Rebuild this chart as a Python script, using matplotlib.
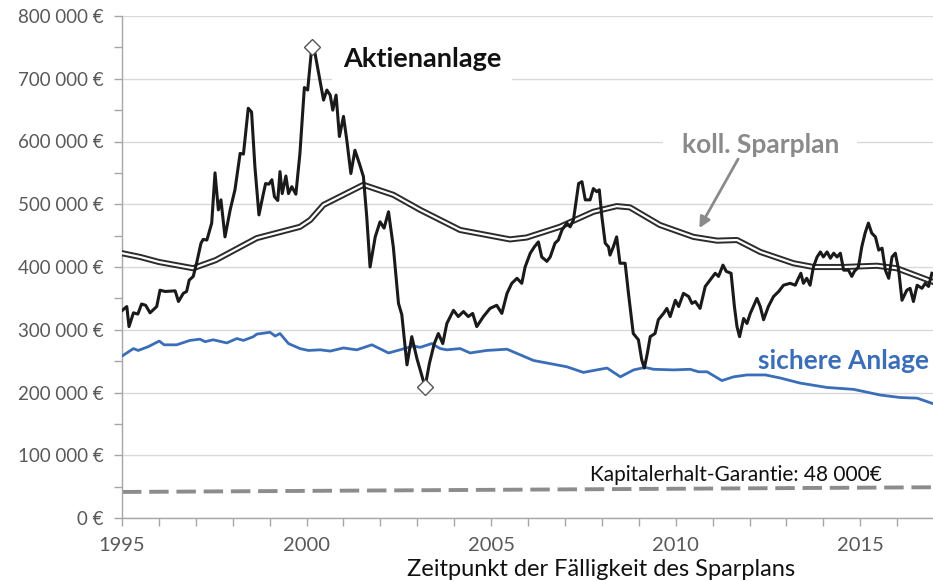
import matplotlib
matplotlib.use("Agg")
import matplotlib.pyplot as plt
from matplotlib.ticker import FuncFormatter, MultipleLocator

plt.rcParams['font.family'] = ['Lato', 'DejaVu Sans']

# ---------------- DATA ----------------
# Aktienanlage (year, value in EUR)
aktien_years = [
    1995.01, 1995.13, 1995.19, 1995.31, 1995.43, 1995.53, 1995.64, 1995.76, 1995.94, 1996.03,
    1996.17, 1996.44, 1996.53, 1996.66, 1996.75, 1996.82, 1996.93, 1997.02, 1997.14, 1997.20,
    1997.30, 1997.43, 1997.52, 1997.61, 1997.68, 1997.79, 1997.93, 1998.06, 1998.20, 1998.29,
    1998.42, 1998.51, 1998.60, 1998.71, 1998.83, 1998.89, 1998.98, 1999.06, 1999.13, 1999.22,
    1999.28, 1999.34, 1999.44, 1999.51, 1999.60, 1999.71, 1999.82, 1999.94, 2000.03, 2000.14,
    2000.23, 2000.46, 2000.55, 2000.64, 2000.71, 2000.80, 2000.89, 2001.00, 2001.09, 2001.20,
    2001.31, 2001.43, 2001.54, 2001.63, 2001.72, 2001.86, 2001.99, 2002.10, 2002.22, 2002.35,
    2002.49, 2002.58, 2002.72, 2002.85, 2002.99, 2003.21, 2003.33, 2003.46, 2003.57, 2003.69,
    2003.80, 2003.98, 2004.11, 2004.25, 2004.38, 2004.50, 2004.61, 2004.79, 2004.97, 2005.15,
    2005.29, 2005.43, 2005.56, 2005.70, 2005.83, 2005.92, 2006.06, 2006.17, 2006.28, 2006.37,
    2006.51, 2006.60, 2006.73, 2006.82, 2006.92, 2007.05, 2007.14, 2007.23, 2007.37, 2007.46,
    2007.55, 2007.68, 2007.77, 2007.86, 2007.93, 2008.00, 2008.09, 2008.18, 2008.22, 2008.31,
    2008.40, 2008.49, 2008.63, 2008.72, 2008.85, 2008.99, 2009.08, 2009.15, 2009.23, 2009.31,
    2009.44, 2009.53, 2009.67, 2009.76, 2009.85, 2009.99, 2010.08, 2010.21, 2010.35, 2010.44,
    2010.53, 2010.66, 2010.80, 2010.93, 2011.07, 2011.16, 2011.28, 2011.37, 2011.50, 2011.59,
    2011.66, 2011.73, 2011.84, 2011.93, 2012.02, 2012.20, 2012.29, 2012.38, 2012.51, 2012.65,
    2012.79, 2012.92, 2013.10, 2013.24, 2013.30, 2013.39, 2013.46, 2013.55, 2013.64, 2013.73,
    2013.83, 2013.92, 2014.00, 2014.10, 2014.19, 2014.28, 2014.37, 2014.46, 2014.55, 2014.68,
    2014.77, 2014.84, 2014.95, 2015.04, 2015.13, 2015.22, 2015.31, 2015.41, 2015.50, 2015.59,
    2015.68, 2015.77, 2015.86, 2015.95, 2016.04, 2016.13, 2016.26, 2016.35, 2016.44, 2016.54,
    2016.67, 2016.76, 2016.85, 2016.94,
]
aktien_values = [
    331, 337, 305, 327, 325, 341, 339, 327, 337, 363,
    361, 362, 345, 358, 361, 379, 385, 406, 438, 444,
    443, 470, 550, 491, 507, 448, 491, 523, 581, 580,
    653, 647, 560, 483, 517, 533, 532, 539, 512, 506,
    552, 517, 545, 517, 528, 516, 581, 686, 682, 750,
    740, 666, 682, 674, 650, 674, 608, 640, 602, 549,
    586, 565, 544, 480, 400, 448, 472, 462, 488, 432,
    342, 324, 244, 289, 254, 209, 247, 278, 294, 278,
    310, 331, 321, 329, 321, 326, 305, 321, 334, 339,
    326, 358, 374, 382, 374, 400, 422, 432, 440, 416,
    409, 416, 438, 443, 459, 470, 464, 475, 533, 536,
    507, 507, 525, 520, 523, 480, 438, 432, 419, 432,
    448, 406, 406, 358, 294, 284, 252, 239, 262, 289,
    294, 316, 326, 334, 321, 347, 337, 358, 353, 342,
    345, 334, 369, 379, 390, 385, 403, 393, 390, 337,
    305, 289, 318, 310, 326, 350, 337, 316, 337, 353,
    361, 371, 374, 371, 379, 390, 374, 382, 371, 400,
    416, 424, 416, 424, 414, 422, 416, 422, 395, 395,
    385, 393, 400, 432, 454, 470, 454, 448, 427, 430,
    395, 382, 416, 422, 395, 347, 363, 366, 345, 371,
    366, 374, 369, 390,
]
aktien_values = [v * 1000 for v in aktien_values]

# koll. Sparplan
spar_years = [
    1995.00, 1995.49, 1996.00, 1996.93, 1997.02, 1997.54, 1998.65, 1999.82, 2000.10, 2000.46,
    2001.54, 2002.35, 2003.08, 2004.16, 2005.51, 2005.96, 2006.86, 2007.77, 2008.40, 2008.76,
    2009.57, 2010.48, 2011.12, 2011.66, 2012.29, 2013.19, 2013.73, 2014.55, 2015.45, 2015.99,
    2016.94,
]
spar_values = [
    422, 416, 408, 398, 400, 411, 446, 464, 475, 499,
    531, 515, 491, 459, 444, 447, 464, 488, 497, 495,
    467, 448, 442, 443, 424, 406, 400, 400, 402, 398,
    377,
]
spar_values = [v * 1000 for v in spar_values]

# sichere Anlage
sicher_years = [
    1995.00, 1995.31, 1995.44, 1995.71, 1996.01, 1996.14, 1996.48, 1996.84, 1997.11, 1997.25,
    1997.47, 1997.84, 1998.11, 1998.29, 1998.56, 1998.65, 1999.01, 1999.15, 1999.28, 1999.51,
    1999.82, 2000.05, 2000.37, 2000.64, 2001.00, 2001.36, 2001.77, 2002.22, 2002.53, 2002.89,
    2003.08, 2003.39, 2003.62, 2003.80, 2004.16, 2004.43, 2004.88, 2005.43, 2005.79, 2006.15,
    2006.51, 2007.05, 2007.50, 2007.86, 2008.14, 2008.50, 2008.86, 2009.17, 2009.40, 2009.94,
    2010.39, 2010.62, 2010.85, 2011.25, 2011.57, 2011.93, 2012.43, 2012.84, 2013.37, 2014.10,
    2014.82, 2015.54, 2016.08, 2016.54, 2016.98,
]
sicher_values = [
    258, 270, 267, 273, 282, 276, 276, 283, 285, 281,
    284, 279, 286, 283, 289, 293, 296, 290, 294, 278,
    270, 267, 268, 266, 271, 268, 276, 263, 268, 274,
    272, 278, 270, 268, 270, 263, 267, 269, 260, 251,
    247, 241, 232, 236, 239, 225, 236, 240, 237, 236,
    237, 233, 233, 219, 225, 228, 228, 223, 215, 208,
    205, 196, 192, 191, 182,
]
sicher_values = [v * 1000 for v in sicher_values]

# Kapitalerhalt-Garantie
garantie_years = [1995.0, 2017.0]
garantie_values = [41500, 49000]

# extremes marked with diamonds
extreme_years = [2000.14, 2003.21]
extreme_values = [750000, 209000]

BLUE = "#3a6eb8"
GREY_TXT = "#595959"

# ---------------- PLOT ----------------
fig = plt.figure(figsize=(9.33, 5.81), dpi=100)
ax = fig.add_axes([122 / 933, 63 / 581, 1 - 122 / 933, 502 / 581])

ax.plot(garantie_years, garantie_values, color="#8c8c8c", lw=2.8, dashes=(5, 2), zorder=2)
ax.plot(sicher_years, sicher_values, color=BLUE, lw=2.0, zorder=3)
ax.plot(spar_years, spar_values, color="#2b2b2b", lw=4.4, zorder=4, solid_joinstyle='round')
ax.plot(spar_years, spar_values, color="white", lw=1.6, zorder=5, solid_joinstyle='round')
ax.plot(aktien_years, aktien_values, color="#1a1a1a", lw=2.2, zorder=6)
ax.plot(extreme_years, extreme_values, linestyle='none', marker='D', ms=8,
        mfc='white', mec='#555555', mew=1.0, zorder=7)

ax.set_xlim(1995, 2016.97)
ax.set_ylim(0, 800000)

ax.xaxis.set_major_locator(MultipleLocator(5))
ax.xaxis.set_minor_locator(MultipleLocator(1))
ax.yaxis.set_major_locator(MultipleLocator(100000))
ax.yaxis.set_minor_locator(MultipleLocator(50000))
ax.yaxis.set_major_formatter(FuncFormatter(
    lambda v, p: "0 €" if v == 0 else f"{int(v):,} €".replace(",", " ")))

ax.grid(axis='y', which='major', color="#d9d9d9", lw=1.0, zorder=0)
ax.set_axisbelow(True)
for s in ('top', 'right'):
    ax.spines[s].set_visible(False)
for s in ('left', 'bottom'):
    ax.spines[s].set_color("#a6a6a6")
    ax.spines[s].set_linewidth(1.0)

ax.tick_params(axis='both', which='both', direction='out', color="#a6a6a6",
               length=6, width=1.0, labelcolor=GREY_TXT)
ax.tick_params(axis='y', pad=7, labelsize=13.5)
ax.tick_params(axis='x', pad=8, labelsize=14.5)

# ---------------- ANNOTATIONS ----------------
ax.text(2003.13, 731000, "Aktienanlage", fontsize=19.5, fontweight='bold', color="#111111",
        ha='center', va='center', zorder=8,
        bbox=dict(boxstyle='square,pad=0.4', fc='white', ec='none'))
ax.text(2012.29, 594000, "koll. Sparplan", fontsize=19, fontweight='bold', color="#8a8a8a",
        ha='center', va='center', zorder=8,
        bbox=dict(boxstyle='square,pad=0.7', fc='white', ec='none'))
ax.annotate("", xy=(2010.64, 462000), xytext=(2011.69, 572000),
            arrowprops=dict(arrowstyle='-|>', color="#8a8a8a", lw=2.0,
                            mutation_scale=16, shrinkA=0, shrinkB=0), zorder=8)
ax.text(2014.54, 250000, "sichere Anlage", fontsize=19, fontweight='bold', color=BLUE,
        ha='center', va='center', zorder=8)
ax.text(2011.64, 69000, "Kapitalerhalt-Garantie: 48 000€", fontsize=15, color="#111111",
        ha='center', va='center', zorder=8)

fig.text(601 / 933, 1 - 569 / 581, "Zeitpunkt der Fälligkeit des Sparplans",
         fontsize=17, color="#111111", ha='center', va='center')

fig.savefig("out.png", dpi=100)
